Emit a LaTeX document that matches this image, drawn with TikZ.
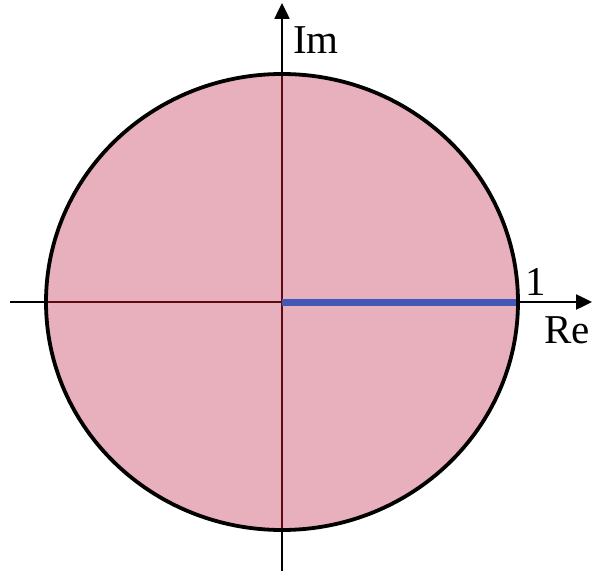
\documentclass[tikz,border=0pt]{standalone}
\usepackage{fontspec}
\setmainfont{Liberation Serif}
\usetikzlibrary{arrows.meta}
\definecolor{diskpink}{HTML}{E8AFBC}
\definecolor{axisred}{HTML}{5A0A10}
\definecolor{segblue}{HTML}{4257B8}
\tikzset{
  lbl/.style={font=\fontsize{41}{43}\selectfont, inner sep=0pt},
  axisout/.style={black, line width=2.5pt},
  axisin/.style={axisred, line width=2.5pt},
}
\begin{document}
\begin{tikzpicture}[x=1pt,y=-1pt]
\useasboundingbox (0,0) rectangle (594,572);
\coordinate (O) at (282,302);
\coordinate (L) at (10,302);
\coordinate (R) at (592,302);
\coordinate (T) at (282,3);
\coordinate (B) at (282,571);
\coordinate (E) at (518,302);
% axes outside (black)
\draw[axisout,-{Triangle[length=16pt,width=15pt]}] (L) -- (R);
\draw[axisout,-{Triangle[length=16pt,width=15pt]}] (B) -- (T);
% disk
\fill[diskpink] (O) ellipse [x radius=236, y radius=228];
% axes inside (dark red)
\draw[axisin] (46,302) -- (E);
\draw[axisin] (282,74) -- (282,530);
% blue segment
\draw[segblue, line width=7pt] (O) -- (E);
% circle outline
\draw[black, line width=3.8pt] (O) ellipse [x radius=236, y radius=228];
% labels
\node[lbl, anchor=south west] (im) at (293,54) {Im};
\node[lbl, anchor=south west] (one) at (525,296) {1};
\node[lbl, anchor=south west] (re) at (544,344) {Re};
\end{tikzpicture}
\end{document}
